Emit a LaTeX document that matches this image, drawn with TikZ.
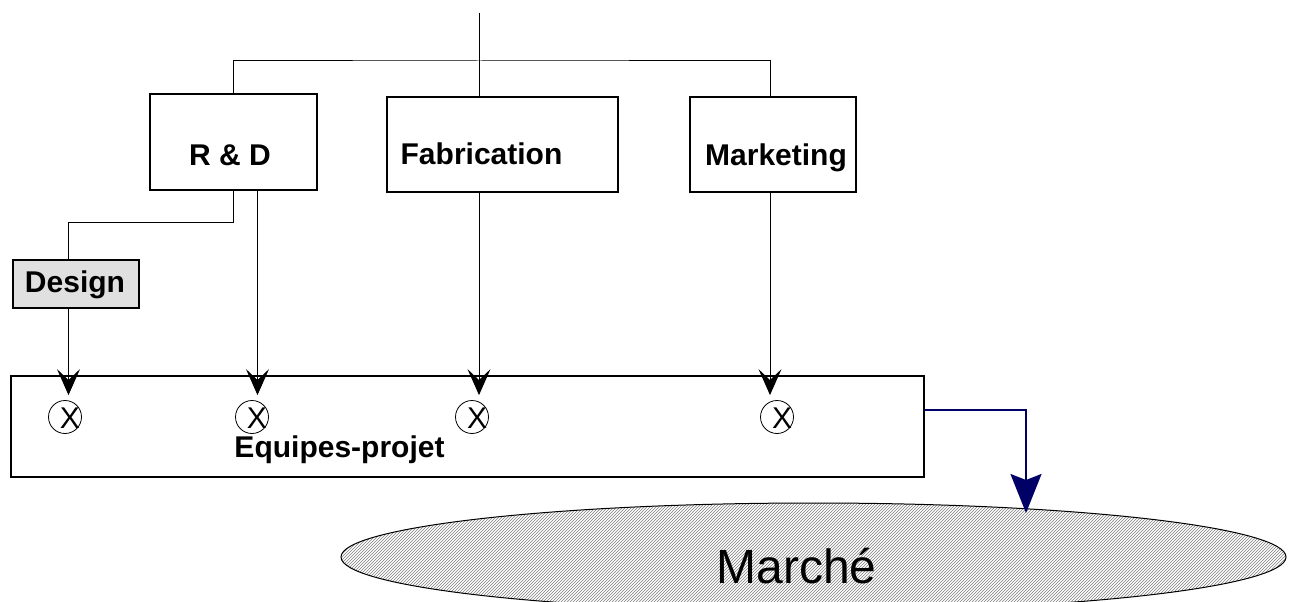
\documentclass[tikz,border=0pt]{standalone}
\usepackage{fontspec}
\setmainfont{Liberation Sans}
\usetikzlibrary{arrows.meta,shapes.geometric,patterns}
\definecolor{navyline}{RGB}{0,0,102}
\definecolor{designfill}{RGB}{224,224,224}

\begin{document}
\begin{tikzpicture}[x=1pt,y=-1pt,
  box/.style={draw, line width=1.2pt, inner sep=0pt, rectangle},
  title/.style={font=\bfseries\fontsize{30}{36}\selectfont, anchor=base, inner sep=0pt},
  link/.style={line width=1pt},
  feed/.style={link, -{Stealth[length=26pt,width=23pt,inset=11pt]}, shorten >=5pt},
  member/.style={circle, draw, line width=0.8pt, minimum size=33pt, inner sep=0pt,
    label={[font=\fontsize{30}{30}\selectfont, inner sep=0pt, xshift=5pt, yshift=-1pt]center:X}},
  market/.style={ellipse, draw, line width=1pt, inner sep=0pt, outer sep=0pt,
    minimum width=945pt, minimum height=108pt,
    preaction={fill=white}, pattern=north east lines, pattern color=black!50},
  outflow/.style={line width=2pt, navyline, -{Stealth[length=39pt,width=31pt,inset=6pt]}, shorten >=-4pt},
]
\useasboundingbox (0,0) rectangle (1295,602);

% departments
\node[box, minimum width=167pt, minimum height=96pt] (rd) at (233.5,142) {};
\node[box, minimum width=231pt, minimum height=95pt] (fab) at (502.5,144.5) {};
\node[box, minimum width=166pt, minimum height=95pt] (mkt) at (773,144.5) {};
\node[box, fill=designfill, minimum width=126pt, minimum height=48pt] (design) at (76,284) {};

% project teams and market
\node[box, minimum width=913pt, minimum height=101pt] (eq) at (467.5,426.5) {};
\node[market] (marche) at (813.5,557) {};

% labels
\node[title] (rdt) at (230,165) {R \& D};
\node[title] (fabt) at (481.5,164) {Fabrication};
\node[title] (mktt) at (776,165) {Marketing};
\node[title] (designt) at (75,292) {Design};
\node[title] (eqt) at (339.5,457) {Equipes-projet};
\node[font=\fontsize{48}{56}\selectfont, anchor=base, inner sep=0pt] (marchet) at (796.5,583) {Marché};

% team members
\node[member] (c1) at (65,417) {};
\node[member] (c2) at (252,417) {};
\node[member] (c3) at (472,417) {};
\node[member] (c4) at (777,417) {};

% hierarchy
\coordinate (top) at (479,13);
\coordinate (bus) at (479,61);
\draw[link] (top) -- (top |- fab.north);
\draw[link] (rd.north) |- (bus) -| ([xshift=-3pt]mkt.north);
\draw[link] (rd.south) -- ++(0,32) -| ([xshift=-7.5pt]design.north);

% assignments to project teams
\draw[feed] ([xshift=-7.5pt]design.south) -- ([xshift=-7.5pt]design.south |- c1.north);
\draw[feed] ([xshift=24pt]rd.south) -- ([xshift=24pt]rd.south |- c2.north);
\draw[feed] (top |- fab.south) -- (top |- c3.north);
\draw[feed] ([xshift=-3pt]mkt.south) -- ([xshift=-3pt]mkt.south |- c4.north);

% output to the market
\coordinate (landing) at (1026,509);
\draw[outflow] ([yshift=16.5pt]eq.east) -| (landing);
\end{tikzpicture}
\end{document}
